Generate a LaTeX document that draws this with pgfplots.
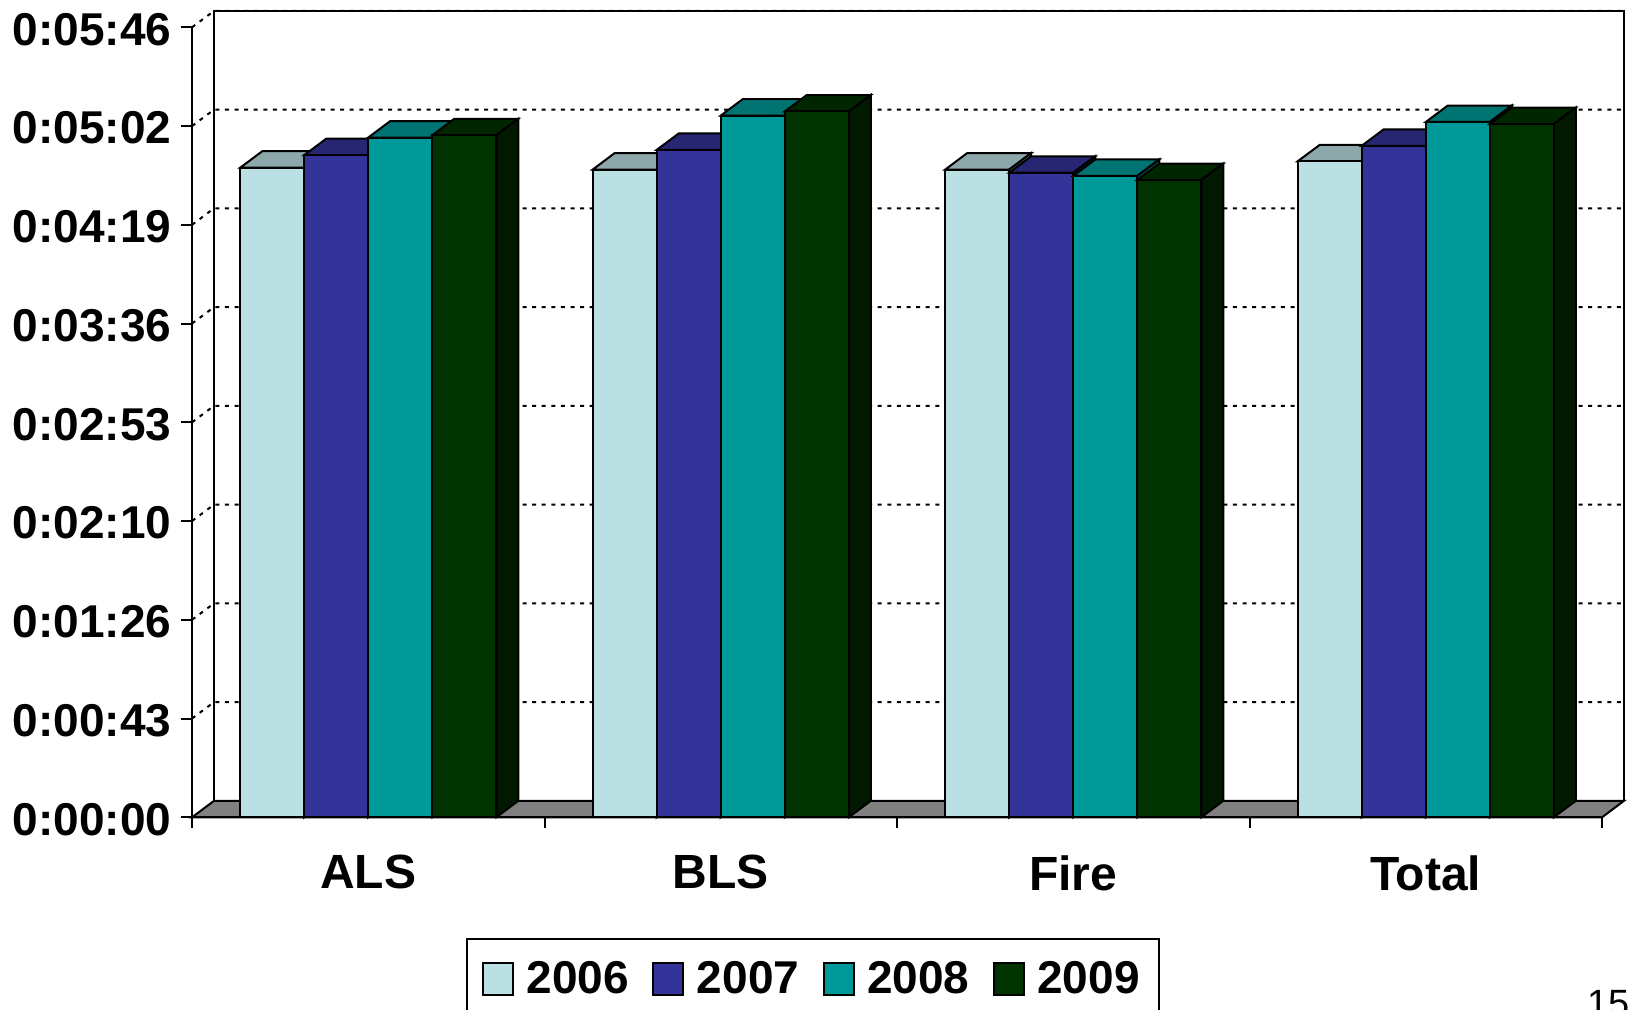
\documentclass[border=0pt]{standalone}
\usepackage{pgfplots}
\pgfplotsset{compat=1.18}
\usepackage{fontspec}
\setmainfont{Liberation Sans}

\definecolor{c06}{HTML}{BBE0E3}
\definecolor{c07}{HTML}{333399}
\definecolor{c08}{HTML}{009999}
\definecolor{c09}{HTML}{003300}

\newcommand{\bigbold}{\bfseries\fontsize{23}{25}\selectfont}

% depth of the fake 3D, in axis units
\newcommand{\dx}{0.0624}
\newcommand{\dy}{7.2}
\newcommand{\bw}{0.1816}

% top and right side of one bar: centre of group, shift, value, colour
\newcommand{\barside}[4]{%
  \pgfmathsetmacro\xa{#1+#2-\bw/2}%
  \pgfmathsetmacro\xb{#1+#2+\bw/2}%
  \pgfmathsetmacro\xc{\xb+\dx}%
  \pgfmathsetmacro\xd{\xa+\dx}%
  \pgfmathsetmacro\yt{#3+\dy}%
  \edef\tmp{%
    \noexpand\addplot[forget plot,draw=black,line width=1pt,fill=#4!75!black]
      coordinates {(\xa,#3)(\xb,#3)(\xc,\yt)(\xd,\yt)} -- cycle;
    \noexpand\addplot[forget plot,draw=black,line width=1pt,fill=#4!50!black]
      coordinates {(\xb,0)(\xc,\dy)(\xc,\yt)(\xb,#3)} -- cycle;
  }\tmp
}
% one year over the four groups
\newcommand{\yearseries}[6]{%
  \barside{0.5}{#1}{#3}{#2}\barside{1.5}{#1}{#4}{#2}%
  \barside{2.5}{#1}{#5}{#2}\barside{3.5}{#1}{#6}{#2}%
  \addplot[forget plot,ybar,bar width=\bw,bar shift=#1,fill=#2,draw=black,line width=1pt]
    coordinates {(0.5,#3)(1.5,#4)(2.5,#5)(3.5,#6)};
}
% dotted grid line on the side wall and back wall
\newcommand{\gridline}[1]{%
  \pgfmathsetmacro\yt{#1+\dy}%
  \edef\tmp{%
    \noexpand\addplot[forget plot,black,line width=1pt,dash pattern=on 2pt off 2.8pt]
      coordinates {(0,#1)(\dx,\yt)(4.0624,\yt)};
  }\tmp
}

\begin{document}
\begin{tikzpicture}
  \clip[use as bounding box] (-96pt,-95.85pt) rectangle (718.5pt,408.65pt);
  \begin{axis}[
    scale only axis,
    width=716pt,
    height=403.2pt,
    xmin=0, xmax=4.0624,
    ymin=0, ymax=352.8,
    clip=false,
    axis x line*=bottom,
    axis y line*=left,
    axis line style={draw=none},
    tick align=outside,
    major tick length=5.5pt,
    tick style={black,line width=1pt},
    xtick={0,1,2,3,4},
    x tick label as interval,
    xticklabels={ALS,BLS,Fire,Total},
    xticklabel style={font=\bfseries\fontsize{24}{26}\selectfont,yshift=-10pt},
    ytick={0,43.2,86.4,129.6,172.8,216,259.2,302.4,345.6},
    yticklabels={0:00:00,0:00:43,0:01:26,0:02:10,0:02:53,0:03:36,0:04:19,0:05:02,0:05:46},
    yticklabel style={font=\bigbold,inner sep=0pt,xshift=-4.6pt,yshift=-1pt},
    legend columns=4,
    legend style={
      at={(0.1915,-0.1497)},anchor=north west,
      draw=black,line width=1pt,font=\bigbold,
      inner xsep=7.5pt,inner ysep=9pt,
      /tikz/every even column/.append style={column sep=9.75pt},
    },
    swatch/.style={legend image code/.code={
      \draw[##1,draw=black,line width=1pt] (0pt,-8pt) rectangle (15pt,8pt);
      \path (19.2pt,0pt);}},
  ]
  % back wall and floor
  \addplot[forget plot,draw=black,line width=1pt]
    coordinates {(0.0624,7.2)(0.0624,352.8)(4.0624,352.8)(4.0624,7.2)};
  \gridline{43.2}\gridline{86.4}\gridline{129.6}\gridline{172.8}
  \gridline{216}\gridline{259.2}\gridline{302.4}\gridline{345.6}
  \addplot[forget plot,draw=black,line width=1pt,fill=black!50]
    coordinates {(0,0)(0.0624,7.2)(4.0624,7.2)(4,0)} -- cycle;

  \yearseries{-0.2724}{c06}{284.2}{283.4}{283.4}{287.0}
  \yearseries{-0.0908}{c07}{289.7}{292.0}{282.0}{293.8}
  \yearseries{0.0908}{c08}{297.4}{307.0}{280.6}{304.2}
  \yearseries{0.2724}{c09}{298.4}{308.8}{278.8}{303.3}

  % front axis lines
  \addplot[forget plot,black,line width=1pt] coordinates {(0,345.6)(0,0)(4,0)};

  \addlegendimage{swatch,fill=c06}\addlegendentry{2006}
  \addlegendimage{swatch,fill=c07}\addlegendentry{2007}
  \addlegendimage{swatch,fill=c08}\addlegendentry{2008}
  \addlegendimage{swatch,fill=c09}\addlegendentry{2009}
  \end{axis}
  \node[anchor=base west,inner sep=0pt,font=\fontsize{19}{21}\selectfont] at (697.5pt,-99.4pt) {15};
\end{tikzpicture}
\end{document}
